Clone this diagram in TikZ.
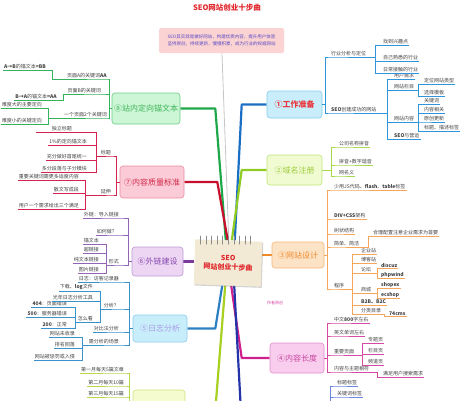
\documentclass[tikz,border=0pt]{standalone}
\usepackage{fontspec}
\setmainfont{Noto Sans CJK SC}
\usetikzlibrary{backgrounds, shadows}
\definecolor{titlered}{HTML}{E0262B}
\definecolor{notefill}{HTML}{FBD3D3}
\definecolor{notetext}{HTML}{5B4BC4}
\definecolor{paper}{HTML}{F3EAD6}
\definecolor{prepline}{HTML}{2E95D8}
\definecolor{preproot}{HTML}{1A6FC4}
\definecolor{prepfill}{HTML}{C9EDFB}
\definecolor{prepedge}{HTML}{86CDEB}
\definecolor{preptext}{HTML}{E8383D}
\definecolor{domline}{HTML}{A8D84E}
\definecolor{domroot}{HTML}{8FCB22}
\definecolor{domfill}{HTML}{F1FBD2}
\definecolor{domedge}{HTML}{BDE37A}
\definecolor{domtext}{HTML}{9CCB3A}
\definecolor{webline}{HTML}{F5A65A}
\definecolor{webroot}{HTML}{F08A28}
\definecolor{webfill}{HTML}{FDE3C6}
\definecolor{webedge}{HTML}{F6B679}
\definecolor{webtext}{HTML}{EE8A2E}
\definecolor{lenline}{HTML}{D64AA6}
\definecolor{lenroot}{HTML}{D0208C}
\definecolor{lenfill}{HTML}{F9CDEE}
\definecolor{lenedge}{HTML}{E28DCB}
\definecolor{lentext}{HTML}{C8489E}
\definecolor{logline}{HTML}{3A92CC}
\definecolor{logroot}{HTML}{2C7FC0}
\definecolor{logfill}{HTML}{C9EEFB}
\definecolor{logedge}{HTML}{8CCDEA}
\definecolor{logtext}{HTML}{A99BE6}
\definecolor{linkline}{HTML}{9565B5}
\definecolor{linkroot}{HTML}{7A3C9A}
\definecolor{linkfill}{HTML}{ECD6F3}
\definecolor{linkedge}{HTML}{BC9AD3}
\definecolor{linktext}{HTML}{8A4AAE}
\definecolor{qualline}{HTML}{D4234F}
\definecolor{qualroot}{HTML}{C8102E}
\definecolor{qualfill}{HTML}{FBCBD7}
\definecolor{qualedge}{HTML}{EA8CA2}
\definecolor{qualtext}{HTML}{D42A4A}
\definecolor{anchline}{HTML}{33B45C}
\definecolor{anchroot}{HTML}{1FA84A}
\definecolor{anchfill}{HTML}{CCF6D6}
\definecolor{anchedge}{HTML}{6BCB86}
\definecolor{anchtext}{HTML}{3FB55A}
\definecolor{updline}{HTML}{B6D84A}
\definecolor{updroot}{HTML}{A8D020}
\definecolor{updfill}{HTML}{F4FBCF}
\definecolor{updedge}{HTML}{CBE47C}
\definecolor{tagline}{HTML}{6A86E0}
\definecolor{tagroot}{HTML}{2434A8}

\begin{document}
\begin{tikzpicture}[x=1pt, y=-1pt,
				gbox/.style={rounded corners=3pt, line width=0.6pt, align=center,
					inner sep=1pt, font=\fontsize{8}{9}\selectfont},
				rleaf/.style={anchor=south west, inner xsep=1pt, inner ysep=0.7pt,
					font=\fontsize{5}{6}\selectfont, text=black!75},
				lleaf/.style={rleaf, anchor=south east},
				trunk/.style={line width=2.2pt, line join=round},
				twig/.style={line width=0.6pt}
				]
				\useasboundingbox (0,0) rectangle (461,400);
				% title and note
				\node[font=\bfseries\fontsize{7.5}{9}\selectfont, text=titlered] (title) at (227,8) {SEO网站创业十步曲};
				\node[fill=notefill, rounded corners=2pt, minimum width=125pt, minimum height=25pt, align=center,
					font=\fontsize{4.5}{6.5}\selectfont, text=notetext] (note) at (221.5,40.5)
					{SEO其实就是做好网站，构建优质内容，提升用户体验\\坚持原创，持续更新，慢慢积累，成为行业的权威网站};
				% centre
				\node[fill=paper, minimum width=67pt, minimum height=45pt, rotate=-2, align=center,
					drop shadow={shadow xshift=1pt, shadow yshift=-1.2pt, opacity=0.35},
					font=\bfseries\fontsize{7}{9}\selectfont, text=titlered] (cen) at (228,263)
					{SEO\\网站创业十步曲};
				\foreach \i in {0,...,9}
					\draw[black!45, line width=1pt, line cap=round] (200.5+\i*5.6,236) -- ++(0,8);
				% branch boxes
				\node[gbox, draw=prepedge, fill=prepfill, text=preptext, minimum width=55pt, minimum height=27pt] (g1) at (294.5,104.5) {\textbf{①工作准备}};
				\node[gbox, draw=domedge, fill=domfill, text=domtext, minimum width=55pt, minimum height=30pt] (g2) at (294.5,170) {②域名注册};
				\node[gbox, draw=webedge, fill=webfill, text=webtext, minimum width=52pt, minimum height=26pt] (g3) at (298,255) {③网站设计};
				\node[gbox, draw=lenedge, fill=lenfill, text=lentext, minimum width=54pt, minimum height=30pt] (g4) at (297,358) {④内容长度};
				\node[gbox, draw=logedge, fill=logfill, text=logtext, minimum width=54pt, minimum height=27pt] (g5) at (160,328.5) {⑤日志分析};
				\node[gbox, draw=linkedge, fill=linkfill, text=linktext, minimum width=51pt, minimum height=29pt] (g6) at (157.5,261.5) {⑥外链建设};
				\node[gbox, draw=qualedge, fill=qualfill, text=qualtext, minimum width=64pt, minimum height=32pt] (g7) at (152,182) {⑦内容质量标准};
				\node[gbox, draw=anchedge, fill=anchfill, text=anchtext, minimum width=68pt, minimum height=31pt] (g8) at (146,108.5) {⑧站内定向锚文本};
				\node[gbox, draw=updedge, fill=updfill, minimum width=52pt, minimum height=40pt] (g9) at (159,410) {};
				\node[gbox, minimum width=54pt, minimum height=30pt] (g10) at (297,425) {};
				\node[font=\fontsize{4}{5}\selectfont, text=lenline] (sign) at (275,303) {作者原创};
				% trunks
				\begin{scope}[on background layer]
					\draw[gray!45, line width=0.8pt] (note) -- (cen.north);
					\draw[trunk, preproot] ([xshift=6pt]cen.north) -- ([xshift=-25pt]g1.west) -- (g1.west);
					\draw[trunk, domroot]  ([xshift=3pt]cen.north) -- ([xshift=-25pt]g2.west) -- (g2.west);
					\draw[trunk, anchroot] ([xshift=-3pt]cen.north) -- ([xshift=35pt]g8.east) -- (g8.east);
					\draw[trunk, qualroot] ([xshift=-1pt]cen.north) -- ([xshift=33pt]g7.east) -- (g7.east);
					\draw[trunk, webroot]  (g3.west) -- (g3.west -| cen.east);
					\draw[trunk, linkroot] (g6.east) -- (g6.east -| cen.west);
					\draw[trunk, logroot]  ([xshift=-5pt]cen.south) -- ([xshift=28pt]g5.east) -- (g5.east);
					\draw[trunk, lenroot]  ([xshift=4pt]cen.south) -- ([xshift=-28pt]g4.west) -- (g4.west);
					\draw[trunk, updroot]  ([xshift=-2pt]cen.south) -- ([xshift=30pt]g9.east) -- (g9.east);
					\draw[trunk, tagroot]  ([xshift=7pt]cen.south) -- ([xshift=-28pt]g10.west) -- (g10.west);
				\end{scope}
				% 1 work
				\node[rleaf] (hy)  at (330,57)  {行业分析与定位};
				\node[rleaf] (hy1) at (382,45)  {找到兴趣点};
				\node[rleaf] (hy2) at (382,61)  {自己熟悉的行业};
				\node[rleaf] (hy3) at (382,73)  {日常接触的行业};
				\node[rleaf] (cj)  at (330,113) {\textbf{SEO}创建成功的网站};
				\node[rleaf] (cj1) at (393,79)  {用户需求};
				\node[rleaf] (cj2) at (393,90)  {网站栏目};
				\node[rleaf] (lm1) at (423,84)  {定位网站类型};
				\node[rleaf] (lm2) at (423,96)  {选择模板};
				\node[rleaf] (cj3) at (393,122) {网站内容};
				\node[rleaf] (nr1) at (423,104) {关键词};
				\node[rleaf] (nr2) at (423,113) {内容相关};
				\node[rleaf] (nr3) at (423,122) {原创更新};
				\node[rleaf] (nr4) at (423,131) {标题、描述标签};
				\node[rleaf] (cj4) at (393,139) {\textbf{SEO}与营运};
				\draw[twig, prepline] (g1.east) -- ++(3,0) |- (hy.south west) -- (hy.south east);
				\draw[twig, prepline] (g1.east) -- ++(3,0) |- (cj.south west) -- (cj.south east);
				\draw[twig, prepline] (hy.south east) -| ([xshift=-7pt]hy1.south west) -- (hy1.south east);
				\draw[twig, prepline] (hy.south east) -| ([xshift=-7pt]hy2.south west) -- (hy2.south east);
				\draw[twig, prepline] (hy.south east) -| ([xshift=-7pt]hy3.south west) -- (hy3.south east);
				\draw[twig, prepline] (cj.south east) -| ([xshift=-6pt]cj1.south west) -- (cj1.south east);
				\draw[twig, prepline] (cj.south east) -| ([xshift=-6pt]cj2.south west) -- (cj2.south east);
				\draw[twig, prepline] (cj.south east) -| ([xshift=-6pt]cj3.south west) -- (cj3.south east);
				\draw[twig, prepline] (cj.south east) -| ([xshift=-6pt]cj4.south west) -- (cj4.south east);
				\draw[twig, prepline] (cj2.south east) -| ([xshift=-5pt]lm1.south west) -- (lm1.south east);
				\draw[twig, prepline] (cj2.south east) -| ([xshift=-5pt]lm2.south west) -- (lm2.south east);
				\draw[twig, prepline] (cj3.south east) -| ([xshift=-5pt]nr1.south west) -- (nr1.south east);
				\draw[twig, prepline] (cj3.south east) -| ([xshift=-5pt]nr2.south west) -- (nr2.south east);
				\draw[twig, prepline] (cj3.south east) -| ([xshift=-5pt]nr3.south west) -- (nr3.south east);
				\draw[twig, prepline] (cj3.south east) -| ([xshift=-5pt]nr4.south west) -- (nr4.south east);
				% 2 domain
				\node[rleaf] (ym1) at (338,147) {公司名称拼音};
				\node[rleaf] (ym2) at (338,165) {拼音+数字谐音};
				\node[rleaf] (ym3) at (338,176) {网名义};
				\draw[twig, domline] (g2.east) -- ++(9,0) |- (ym1.south west) -- (ym1.south east);
				\draw[twig, domline] (g2.east) -- ++(9,0) |- (ym2.south west) -- (ym2.south east);
				\draw[twig, domline] (g2.east) -- ++(9,0) |- (ym3.south west) -- (ym3.south east);
				% 3 design
				\node[rleaf] (sj1) at (333,190) {少用JS代码、\textbf{flash}、\textbf{table}标签};
				\node[rleaf] (sj2) at (333,219) {\textbf{DIV+CSS}架构};
				\node[rleaf] (sj3) at (333,234) {树状结构};
				\node[rleaf] (sj4) at (333,247) {简单、简洁};
				\node[rleaf] (sj41) at (372,236) {合理配置注意企业需求为首要};
				\node[rleaf] (sj5) at (333,289) {程序};
				\node[rleaf] (cx1) at (360,254) {企业站};
				\node[rleaf] (cx2) at (360,263) {博客站};
				\node[rleaf] (cx3) at (360,273) {论坛};
				\node[rleaf] (lt1) at (380,268) {\textbf{discuz}};
				\node[rleaf] (lt2) at (380,278) {\textbf{phpwind}};
				\node[rleaf] (cx4) at (360,293) {商城};
				\node[rleaf] (sc1) at (380,288) {\textbf{shopex}};
				\node[rleaf] (sc2) at (380,298) {\textbf{ecshop}};
				\node[rleaf] (cx5) at (360,305) {\textbf{B2B、B2C}};
				\node[rleaf] (cx6) at (360,314) {分类目录};
				\node[rleaf] (fl1) at (388,316) {\textbf{74cms}};
				\draw[twig, webline] (g3.east) -- ++(3,0) |- (sj1.south west) -- (sj1.south east);
				\draw[twig, webline] (g3.east) -- ++(3,0) |- (sj2.south west) -- (sj2.south east);
				\draw[twig, webline] (g3.east) -- ++(3,0) |- (sj3.south west) -- (sj3.south east);
				\draw[twig, webline] (g3.east) -- ++(3,0) |- (sj4.south west) -- (sj4.south east);
				\draw[twig, webline] (g3.east) -- ++(3,0) |- (sj5.south west) -- (sj5.south east);
				\draw[twig, webline] (sj4.south east) -| ([xshift=-4pt]sj41.south west) -- (sj41.south east);
				\draw[twig, webline] (sj5.south east) -| ([xshift=-8pt]cx1.south west) -- (cx1.south east);
				\draw[twig, webline] (sj5.south east) -| ([xshift=-8pt]cx2.south west) -- (cx2.south east);
				\draw[twig, webline] (sj5.south east) -| ([xshift=-8pt]cx3.south west) -- (cx3.south east);
				\draw[twig, webline] (sj5.south east) -| ([xshift=-8pt]cx4.south west) -- (cx4.south east);
				\draw[twig, webline] (sj5.south east) -| ([xshift=-8pt]cx5.south west) -- (cx5.south east);
				\draw[twig, webline] (sj5.south east) -| ([xshift=-8pt]cx6.south west) -- (cx6.south east);
				\draw[twig, webline] (cx3.south east) -| ([xshift=-3pt]lt1.south west) -- (lt1.south east);
				\draw[twig, webline] (cx3.south east) -| ([xshift=-3pt]lt2.south west) -- (lt2.south east);
				\draw[twig, webline] (cx4.south east) -| ([xshift=-3pt]sc1.south west) -- (sc1.south east);
				\draw[twig, webline] (cx4.south east) -| ([xshift=-3pt]sc2.south west) -- (sc2.south east);
				\draw[twig, webline] (cx6.south east) -| ([xshift=-4pt]fl1.south west) -- (fl1.south east);
				% 4 length
				\node[rleaf] (cd1) at (333,323) {中文\textbf{800}字左右};
				\node[rleaf] (cd2) at (333,336) {英文单词左右};
				\node[rleaf] (cd3) at (333,355) {重要页面};
				\node[rleaf] (yy1) at (367,343) {专题页};
				\node[rleaf] (yy2) at (367,354) {栏目页};
				\node[rleaf] (yy3) at (367,365) {频道页};
				\node[rleaf] (cd4) at (333,372) {内容与主题相符};
				\node[rleaf] (cd41) at (382,377) {满足用户搜索需求};
				\draw[twig, lenline] (g4.east) -- ++(3,0) |- (cd1.south west) -- (cd1.south east);
				\draw[twig, lenline] (g4.east) -- ++(3,0) |- (cd2.south west) -- (cd2.south east);
				\draw[twig, lenline] (g4.east) -- ++(3,0) |- (cd3.south west) -- (cd3.south east);
				\draw[twig, lenline] (g4.east) -- ++(3,0) |- (cd4.south west) -- (cd4.south east);
				\draw[twig, lenline] (cd3.south east) -| ([xshift=-5pt]yy1.south west) -- (yy1.south east);
				\draw[twig, lenline] (cd3.south east) -| ([xshift=-5pt]yy2.south west) -- (yy2.south east);
				\draw[twig, lenline] (cd3.south east) -| ([xshift=-5pt]yy3.south west) -- (yy3.south east);
				\draw[twig, lenline] (cd4.south east) -| ([xshift=-5pt]cd41.south west) -- (cd41.south east);
				% 10 tags
				\node[rleaf] (bq1) at (336,386) {标题标签};
				\node[rleaf] (bq2) at (336,397) {关键词标签};
				\draw[twig, tagline] (g10.east) -- ++(6,0) |- (bq1.south west) -- (bq1.south east);
				\draw[twig, tagline] (g10.east) -- ++(6,0) |- (bq2.south west) -- (bq2.south east);
				% 8 anchor text
				\node[lleaf] (dx1)  at (108,79)  {页面A的关键词\textbf{AA}};
				\node[lleaf] (dx11) at (47,70)   {\textbf{A→B}的锚文本\textbf{=BB}};
				\node[lleaf] (dx2)  at (102,94)  {页面B的关键词};
				\node[lleaf] (dx21) at (58,100)  {\textbf{B→A}的锚文本\textbf{=AA}};
				\node[lleaf] (dx3)  at (108,118) {一个页面2个关键词};
				\node[lleaf] (dx31) at (43,108)  {难度大的主要定向};
				\node[lleaf] (dx32) at (43,124)  {难度小的关键定向};
				\draw[twig, anchline] (g8.west) -- ++(-2,0) |- (dx1.south east) -- (dx1.south west);
				\draw[twig, anchline] (g8.west) -- ++(-2,0) |- (dx2.south east) -- (dx2.south west);
				\draw[twig, anchline] (g8.west) -- ++(-2,0) |- (dx3.south east) -- (dx3.south west);
				\draw[twig, anchline] (dx1.south west) -| ([xshift=5pt]dx11.south east) -- (dx11.south west);
				\draw[twig, anchline] (dx2.south west) -| ([xshift=5pt]dx21.south east) -- (dx21.south west);
				\draw[twig, anchline] (dx3.south west) -| ([xshift=5pt]dx31.south east) -- (dx31.south west);
				\draw[twig, anchline] (dx3.south west) -| ([xshift=5pt]dx32.south east) -- (dx32.south west);
				% 7 quality
				\node[lleaf] (nz1) at (112,156) {标题};
				\node[lleaf, minimum width=52pt] (bt1) at (88,132) {独立标题};
				\node[lleaf] (bt2) at (88,145) {1\%的定向锚文本};
				\node[lleaf] (bt3) at (88,160) {充分做好首尾统一};
				\node[lleaf] (bt4) at (88,172) {多分段落与子分模块};
				\node[lleaf] (nz2) at (112,195) {延伸};
				\node[lleaf] (ys1) at (80,180) {重要关键词需更多适度内容};
				\node[lleaf] (ys2) at (80,193) {散文写成段};
				\node[lleaf] (ys3) at (80,209) {用户一个需求给出三个满足};
				\draw[twig, qualline] (g7.west) -- ++(-3,0) |- (nz1.south east) -- (nz1.south west);
				\draw[twig, qualline] (g7.west) -- ++(-3,0) |- (nz2.south east) -- (nz2.south west);
				\draw[twig, qualline] (nz1.south west) -| ([xshift=8pt]bt1.south east) -- (bt1.south west);
				\draw[twig, qualline] (nz1.south west) -| ([xshift=8pt]bt2.south east) -- (bt2.south west);
				\draw[twig, qualline] (nz1.south west) -| ([xshift=8pt]bt3.south east) -- (bt3.south west);
				\draw[twig, qualline] (nz1.south west) -| ([xshift=8pt]bt4.south east) -- (bt4.south west);
				\draw[twig, qualline] (nz2.south west) -| ([xshift=5pt]ys1.south east) -- (ys1.south west);
				\draw[twig, qualline] (nz2.south west) -| ([xshift=5pt]ys2.south east) -- (ys2.south west);
				\draw[twig, qualline] (nz2.south west) -| ([xshift=5pt]ys3.south east) -- (ys3.south west);
				% 6 links
				\node[lleaf] (wl1) at (120,218) {外链：导入链接};
				\node[lleaf] (wl2) at (118,235) {如何做？};
				\node[lleaf] (wl3) at (120,265) {形式};
				\node[lleaf] (xs1) at (100,244) {锚文本};
				\node[lleaf] (xs2) at (100,253) {超链接};
				\node[lleaf] (xs3) at (100,263) {纯文本链接};
				\node[lleaf] (xs4) at (100,273) {图片链接};
				\draw[twig, linkline] (g6.west) -- ++(-3,0) |- (wl1.south east) -- (wl1.south west);
				\draw[twig, linkline] (g6.west) -- ++(-3,0) |- (wl2.south east) -- (wl2.south west);
				\draw[twig, linkline] (g6.west) -- ++(-3,0) |- (wl3.south east) -- (wl3.south west);
				\draw[twig, linkline] (wl3.south west) -| ([xshift=6pt]xs1.south east) -- (xs1.south west);
				\draw[twig, linkline] (wl3.south west) -| ([xshift=6pt]xs2.south east) -- (xs2.south west);
				\draw[twig, linkline] (wl3.south west) -| ([xshift=6pt]xs3.south east) -- (xs3.south west);
				\draw[twig, linkline] (wl3.south west) -| ([xshift=6pt]xs4.south east) -- (xs4.south west);
				% 5 logs
				\node[lleaf] (rz1) at (120,282) {日志：访客记录器};
				\node[lleaf] (rz2) at (120,309) {分析？};
				\node[lleaf] (fx1) at (94,291)  {下载、\textbf{log}文件};
				\node[lleaf] (fx2) at (94,301)  {光年日志分析工具};
				\node[lleaf] (fx3) at (94,322)  {怎么看};
				\node[lleaf] (zk1) at (68,307)  {\textbf{404}：页面错误};
				\node[lleaf] (zk2) at (68,317)  {\textbf{500}：服务器错误};
				\node[lleaf] (zk3) at (68,328)  {\textbf{200}：正常};
				\node[lleaf] (rz3) at (120,332) {对比法分析};
				\node[lleaf] (rz4) at (120,345) {需分析的场景};
				\node[lleaf] (fs1) at (76,337)  {网站未收录};
				\node[lleaf] (fs2) at (76,348)  {排名回落};
				\node[lleaf] (fs3) at (76,360)  {网站被惩罚或入侵};
				\draw[twig, logline] (g5.west) -- ++(-3,0) |- (rz1.south east) -- (rz1.south west);
				\draw[twig, logline] (g5.west) -- ++(-3,0) |- (rz2.south east) -- (rz2.south west);
				\draw[twig, logline] (g5.west) -- ++(-3,0) |- (rz3.south east) -- (rz3.south west);
				\draw[twig, logline] (g5.west) -- ++(-3,0) |- (rz4.south east) -- (rz4.south west);
				\draw[twig, logline] (rz2.south west) -| ([xshift=6pt]fx1.south east) -- (fx1.south west);
				\draw[twig, logline] (rz2.south west) -| ([xshift=6pt]fx2.south east) -- (fx2.south west);
				\draw[twig, logline] (rz2.south west) -| ([xshift=6pt]fx3.south east) -- (fx3.south west);
				\draw[twig, logline] (fx3.south west) -| ([xshift=7pt]zk1.south east) -- (zk1.south west);
				\draw[twig, logline] (fx3.south west) -| ([xshift=7pt]zk2.south east) -- (zk2.south west);
				\draw[twig, logline] (fx3.south west) -| ([xshift=7pt]zk3.south east) -- (zk3.south west);
				\draw[twig, logline] (rz4.south west) -| ([xshift=6pt]fs1.south east) -- (fs1.south west);
				\draw[twig, logline] (rz4.south west) -| ([xshift=6pt]fs2.south east) -- (fs2.south west);
				\draw[twig, logline] (rz4.south west) -| ([xshift=6pt]fs3.south east) -- (fs3.south west);
				% 9 updates
				\node[lleaf] (bl1) at (125,373) {第一月每天5篇文章};
				\node[lleaf] (bl2) at (125,386) {第二月每天10篇};
				\node[lleaf] (bl3) at (125,397) {第三月每天15篇};
				\draw[twig, updline] (g9.west) -- ++(-3,0) |- (bl1.south east) -- (bl1.south west);
				\draw[twig, updline] (g9.west) -- ++(-3,0) |- (bl2.south east) -- (bl2.south west);
				\draw[twig, updline] (g9.west) -- ++(-3,0) |- (bl3.south east) -- (bl3.south west);
			\end{tikzpicture}
\end{document}
